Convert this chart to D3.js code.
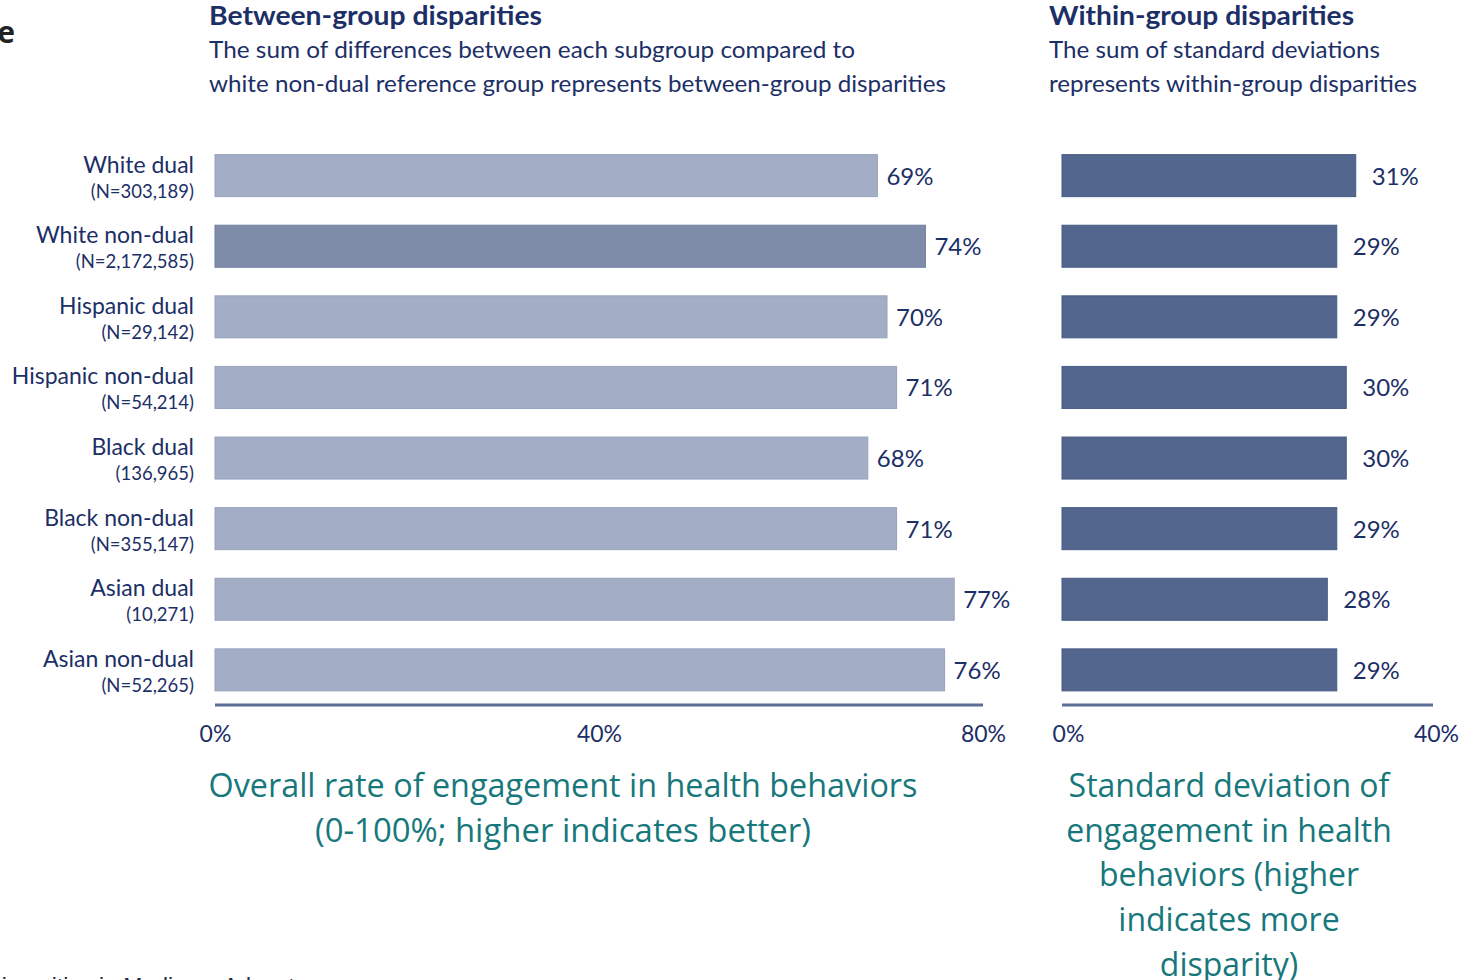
<!DOCTYPE html>
<html>
<head>
<meta charset="utf-8">
<script src="https://cdn.jsdelivr.net/npm/d3@7"></script>
<style>
  body { margin: 0; background: #fff; }
  svg { display: block; }
</style>
</head>
<body>
<div id="chart"></div>
<script>
const groups = ["White dual", "White non-dual", "Hispanic dual", "Hispanic non-dual",
                "Black dual", "Black non-dual", "Asian dual", "Asian non-dual"];
const groupNs = ["(N=303,189)", "(N=2,172,585)", "(N=29,142)", "(N=54,214)",
                 "(136,965)", "(N=355,147)", "(10,271)", "(N=52,265)"];
const engagement = [69, 74, 70, 71, 68, 71, 77, 76];
const stdDev = [31, 29, 29, 30, 30, 29, 28, 29];
const leftTicks = [0, 40, 80];
const rightTicks = [0, 40];
const referenceGroup = "White non-dual";

const navy = "#1c2f66";
const teal = "#17787c";
const chartFont = "Lato, 'Noto Sans', sans-serif";

function drawChart() {
    const width = 1460, height = 980;

    const svg = d3.create("svg")
        .attr("width", width)
        .attr("height", height)
        .style("font-family", chartFont);

    const y = d3.scaleBand()
        .domain(groups)
        .range([140.5, 705])
        .paddingInner(0.405)
        .paddingOuter(0.2);

    const xLeft = d3.scaleLinear().domain([0, 80]).range([215, 983]);
    const xRight = d3.scaleLinear().domain([0, 40]).range([1062, 1441]);

    // cropped fragments from the surrounding slide
    svg.append("text")
        .attr("x", 15).attr("y", 43)
        .attr("text-anchor", "end")
        .style("font-family", "'Open Sans', sans-serif")
        .style("font-weight", 700)
        .style("font-size", "30px")
        .attr("fill", "#222")
        .text("Measure");
    svg.append("text")
        .attr("x", 333).attr("y", 995)
        .attr("text-anchor", "end")
        .style("font-family", "'Liberation Sans', sans-serif")
        .style("font-size", "23px")
        .attr("fill", "#1f2a44")
        .text("Disparities in Medicare Advantage");

    // panel titles
    const titles = [
        { x: 209, head: "Between-group disparities", w: 333,
          lines: ["The sum of differences between each subgroup compared to",
                  "white non-dual reference group represents between-group disparities"],
          lw: [646, 737] },
        { x: 1049, head: "Within-group disparities", w: 305,
          lines: ["The sum of standard deviations", "represents within-group disparities"],
          lw: [331, 368] }
    ];
    titles.forEach(t => {
        svg.append("text")
            .attr("x", t.x).attr("y", 25)
            .attr("fill", navy)
            .style("font-size", "26px")
            .style("font-weight", 700)
            .attr("textLength", t.w)
            .attr("lengthAdjust", "spacingAndGlyphs")
            .text(t.head);
        t.lines.forEach((line, i) => {
            svg.append("text")
                .attr("x", t.x).attr("y", 58 + i * 33.5)
                .attr("fill", navy)
                .style("font-size", "24px")
                .attr("textLength", t.lw[i])
                .attr("lengthAdjust", "spacingAndGlyphs")
                .text(line);
        });
    });

    // category labels
    const labels = svg.append("g").attr("text-anchor", "end").attr("fill", navy);
    labels.selectAll("text.name")
        .data(groups)
        .join("text")
        .attr("class", "name")
        .attr("x", 194)
        .attr("y", d => y(d) + 18)
        .style("font-size", "23px")
        .text(d => d);
    labels.selectAll("text.n")
        .data(groups)
        .join("text")
        .attr("class", "n")
        .attr("x", 194)
        .attr("y", d => y(d) + 43)
        .style("font-size", "18.5px")
        .text((d, i) => groupNs[i]);

    // left panel bars
    const left = svg.append("g");
    left.selectAll("rect")
        .data(groups)
        .join("rect")
        .attr("x", xLeft(0))
        .attr("y", d => y(d))
        .attr("width", (d, i) => xLeft(engagement[i]) - xLeft(0))
        .attr("height", y.bandwidth())
        .attr("fill", d => d === referenceGroup ? "#7e8ba9" : "#a3adc6")
        .attr("stroke", d => d === referenceGroup ? "#6f7d9e" : "#97a2bd")
        .attr("stroke-width", 1);
    left.selectAll("text")
        .data(groups)
        .join("text")
        .attr("x", (d, i) => xLeft(engagement[i]) + 9)
        .attr("y", d => y(d) + y.bandwidth() / 2 + 9)
        .attr("fill", navy)
        .style("font-size", "24px")
        .text((d, i) => engagement[i] + "%");

    // right panel bars
    const right = svg.append("g");
    right.selectAll("rect")
        .data(groups)
        .join("rect")
        .attr("x", xRight(0))
        .attr("y", d => y(d))
        .attr("width", (d, i) => xRight(stdDev[i]) - xRight(0))
        .attr("height", y.bandwidth())
        .attr("fill", "#52668e")
        .attr("stroke", "#475b84")
        .attr("stroke-width", 1);
    right.selectAll("text")
        .data(groups)
        .join("text")
        .attr("x", (d, i) => xRight(stdDev[i]) + 16)
        .attr("y", d => y(d) + y.bandwidth() / 2 + 9)
        .attr("fill", navy)
        .style("font-size", "24px")
        .text((d, i) => stdDev[i] + "%");

    // axes
    const axisY = 705;
    const leftAxis = svg.append("g")
        .attr("transform", `translate(0,${axisY})`)
        .call(d3.axisBottom(xLeft).tickValues(leftTicks).tickSize(0).tickPadding(21)
            .tickFormat(d => d + "%"));
    const rightAxis = svg.append("g")
        .attr("transform", `translate(0,${axisY})`)
        .call(d3.axisBottom(xRight).tickValues(rightTicks).tickSize(0).tickPadding(21)
            .tickFormat(d => d + "%"));
    leftAxis.select(".domain").attr("d", `M${xLeft(0)},0H${xLeft(80)}`);
    rightAxis.select(".domain").attr("d", `M${xRight(0)},0H1433`);
    [leftAxis, rightAxis].forEach(a => {
        a.select(".domain").attr("stroke", "#5b6d94").attr("stroke-width", 3);
        a.selectAll(".tick text")
            .attr("fill", navy)
            .style("font-family", chartFont)
            .style("font-size", "23px");
    });
    rightAxis.selectAll(".tick text").attr("dx", (d) => d === 40 ? -5 : 6);

    // axis captions
    const captionFont = "'Open Sans', sans-serif";
    const leftCaption = ["Overall rate of engagement in health behaviors",
                         "(0-100%; higher indicates better)"];
    const rightCaption = ["Standard deviation of", "engagement in health",
                          "behaviors (higher", "indicates more", "disparity)"];
    svg.append("g")
        .attr("text-anchor", "middle")
        .attr("fill", teal)
        .style("font-family", captionFont)
        .style("font-size", "32px")
        .selectAll("text")
        .data(leftCaption)
        .join("text")
        .attr("x", 563)
        .attr("y", (d, i) => 797 + i * 45)
        .attr("textLength", (d, i) => i === 0 ? 709 : 496)
        .attr("lengthAdjust", "spacingAndGlyphs")
        .text(d => d);
    svg.append("g")
        .attr("text-anchor", "middle")
        .attr("fill", teal)
        .style("font-family", captionFont)
        .style("font-size", "32px")
        .selectAll("text")
        .data(rightCaption)
        .join("text")
        .attr("x", 1229)
        .attr("y", (d, i) => 797 + i * 44.7)
        .text(d => d);

    document.getElementById("chart").appendChild(svg.node());
}

drawChart();
</script>
</body>
</html>
